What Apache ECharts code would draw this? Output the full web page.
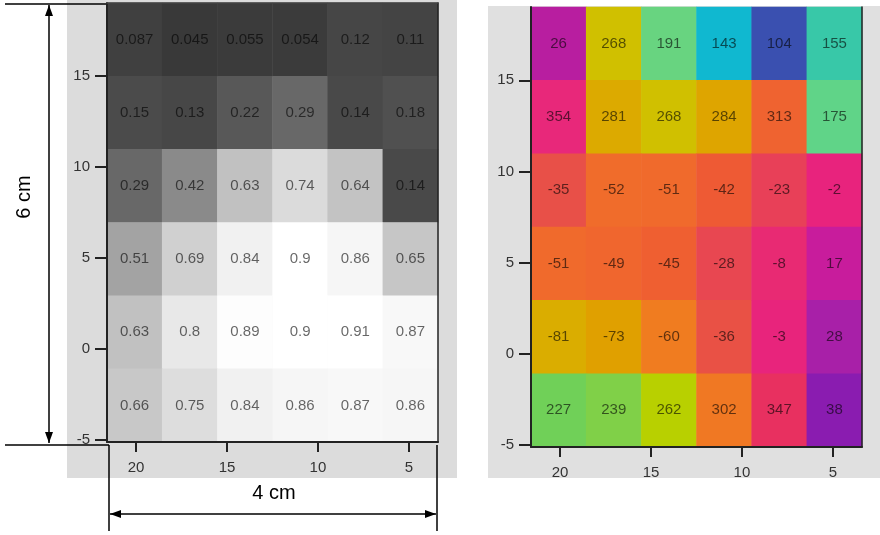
<!DOCTYPE html>
<html>
<head>
<meta charset="utf-8">
<script src="https://cdn.jsdelivr.net/npm/echarts@6/dist/echarts.min.js"></script>
<style>
html,body{margin:0;padding:0;background:#fff;}
#chart{width:880px;height:535px;}
</style>
</head>
<body>
<div id="chart"></div>
<script>
// ---- data ----
const columns = ['c1', 'c2', 'c3', 'c4', 'c5', 'c6'];          // left to right
const rows = ['r1', 'r2', 'r3', 'r4', 'r5', 'r6'];             // bottom to top
const xTickValues = [20, 15, 10, 5];
const yTickValues = [-5, 0, 5, 10, 15];
// amplitude (left panel), rows listed top to bottom
const amplitude = [
  [0.087, 0.045, 0.055, 0.054, 0.12, 0.11],
  [0.15, 0.13, 0.22, 0.29, 0.14, 0.18],
  [0.29, 0.42, 0.63, 0.74, 0.64, 0.14],
  [0.51, 0.69, 0.84, 0.9, 0.86, 0.65],
  [0.63, 0.8, 0.89, 0.9, 0.91, 0.87],
  [0.66, 0.75, 0.84, 0.86, 0.87, 0.86]
];
// phase in degrees (right panel), rows listed top to bottom
const phase = [
  [26, 268, 191, 143, 104, 155],
  [354, 281, 268, 284, 313, 175],
  [-35, -52, -51, -42, -23, -2],
  [-51, -49, -45, -28, -8, 17],
  [-81, -73, -60, -36, -3, 28],
  [227, 239, 262, 302, 347, 38]
];
const xRange = [3.4, 21.6];
const yRange = [-5.1, 19.02];

// ---- colour maps (styles) ----
const grayStops = ['#323232', '#424242', '#545454', '#6a6a6a', '#858585', '#a0a0a0', '#b9b9b9', '#d2d2d2', '#e8e8e8', '#ffffff'];
const phaseStops = [
  [0, '#e8207e'], [17, '#c81c9c'], [26, '#b81ea0'], [28, '#a820a8'], [38, '#8a1cb0'],
  [104, '#3a50b0'], [143, '#10b8d0'], [155, '#38c8a8'], [175, '#60d488'], [191, '#68d480'],
  [227, '#70d058'], [239, '#80d048'], [262, '#b8d000'], [268, '#d0c000'], [281, '#dcaa00'],
  [287, '#e0a000'], [300, '#f07c20'], [309, '#f06a2c'], [318, '#ee5a34'], [325, '#e85048'],
  [337, '#e84058'], [347, '#e83060'], [354, '#e8287a'], [360, '#e8207e']
];
function hex2rgb(h){return [parseInt(h.substr(1,2),16),parseInt(h.substr(3,2),16),parseInt(h.substr(5,2),16)];}
function phaseColorList(){
  const out = [];
  for (let a = 0; a <= 360; a++) {
    let k = 0;
    while (k < phaseStops.length - 2 && phaseStops[k+1][0] < a) k++;
    const [a0, c0] = phaseStops[k], [a1, c1] = phaseStops[k+1];
    const t = a1 === a0 ? 0 : Math.min(1, Math.max(0, (a - a0) / (a1 - a0)));
    const r0 = hex2rgb(c0), r1 = hex2rgb(c1);
    const c = r0.map((v, i) => Math.round(v + (r1[i] - v) * t));
    out.push('rgb(' + c.join(',') + ')');
  }
  return out;
}

// ---- build series data ----
const ampData = [];
const phaseData = [];
for (let i = 0; i < 6; i++) {
  for (let j = 0; j < 6; j++) {
    ampData.push([j, 5 - i, amplitude[i][j]]);
    const p = phase[i][j];
    phaseData.push([j, 5 - i, ((p % 360) + 360) % 360, p]);
  }
}

const FONT = 'Liberation Sans, Arial, sans-serif';
const AX = '#222';

function valueX(g) {
  return {
    gridIndex: g, type: 'value', min: xRange[0], max: xRange[1], inverse: true, position: 'bottom', z: 5,
    axisLine: {show: true, onZero: false, lineStyle: {color: AX, width: 2}},
    axisTick: {show: true, customValues: xTickValues, length: 10, lineStyle: {color: AX, width: 2}},
    axisLabel: {show: true, customValues: xTickValues, margin: 18, fontSize: 15, color: '#333', fontFamily: FONT},
    splitLine: {show: false}
  };
}
function valueY(g) {
  return {
    gridIndex: g, type: 'value', min: yRange[0], max: yRange[1], position: 'left', z: 5,
    axisLine: {show: true, onZero: false, lineStyle: {color: AX, width: 2}},
    axisTick: {show: true, customValues: yTickValues, length: 12, lineStyle: {color: AX, width: 2}},
    axisLabel: {show: true, customValues: yTickValues, margin: 17, fontSize: 15, color: '#333', fontFamily: FONT},
    splitLine: {show: false}
  };
}
function catX(g, showTop) {
  return {
    gridIndex: g, type: 'category', data: columns, position: 'top', z: 5,
    axisLine: {show: showTop, onZero: false, lineStyle: {color: '#444', width: 1.5}},
    axisTick: {show: false}, axisLabel: {show: false}, splitLine: {show: false}
  };
}
function catY(g) {
  return {
    gridIndex: g, type: 'category', data: rows, position: 'right', z: 5,
    axisLine: {show: true, onZero: false, lineStyle: {color: AX, width: 1.5}},
    axisTick: {show: false}, axisLabel: {show: false}, splitLine: {show: false}
  };
}

const labelStyle = {show: true, fontSize: 15, color: 'rgba(0,0,0,0.6)', fontFamily: FONT};

function arrowV(x, y1, y2) {
  return [
    {type: 'line', shape: {x1: x, y1: y1, x2: x, y2: y2}, style: {stroke: '#000', lineWidth: 1.5}},
    {type: 'polygon', shape: {points: [[x, y1], [x - 4, y1 + 11], [x + 4, y1 + 11]]}, style: {fill: '#000'}},
    {type: 'polygon', shape: {points: [[x, y2], [x - 4, y2 - 11], [x + 4, y2 - 11]]}, style: {fill: '#000'}}
  ];
}
function arrowH(y, x1, x2) {
  return [
    {type: 'line', shape: {x1: x1, y1: y, x2: x2, y2: y}, style: {stroke: '#000', lineWidth: 1.5}},
    {type: 'polygon', shape: {points: [[x1, y], [x1 + 11, y - 4], [x1 + 11, y + 4]]}, style: {fill: '#000'}},
    {type: 'polygon', shape: {points: [[x2, y], [x2 - 11, y - 4], [x2 - 11, y + 4]]}, style: {fill: '#000'}}
  ];
}
function line(x1, y1, x2, y2) {
  return {type: 'line', shape: {x1, y1, x2, y2}, style: {stroke: '#000', lineWidth: 1.5}};
}

const chart = echarts.init(document.getElementById('chart'), null, {renderer: 'canvas'});
chart.setOption({
  backgroundColor: '#ffffff',
  animation: false,
  textStyle: {fontFamily: FONT},
  grid: [
    {left: 107, top: 3, width: 331, height: 439, containLabel: false},
    {left: 531, top: 7, width: 331, height: 440, containLabel: false}
  ],
  xAxis: [catX(0, true), valueX(0), catX(1, false), valueX(1)],
  yAxis: [catY(0), valueY(0), catY(1), valueY(1)],
  visualMap: [
    {show: false, type: 'continuous', seriesIndex: 0, dimension: 2, min: 0, max: 0.9, inRange: {color: grayStops}},
    {show: false, type: 'continuous', seriesIndex: 1, dimension: 2, min: 0, max: 360, inRange: {color: phaseColorList()}}
  ],
  series: [
    {
      type: 'heatmap', xAxisIndex: 0, yAxisIndex: 0, data: ampData,
      label: Object.assign({}, labelStyle, {formatter: p => String(p.value[2])}),
      itemStyle: {borderWidth: 0}
    },
    {
      type: 'heatmap', xAxisIndex: 2, yAxisIndex: 2, data: phaseData,
      label: Object.assign({}, labelStyle, {formatter: p => String(p.value[3])}),
      itemStyle: {borderWidth: 0}
    }
  ],
  graphic: {
    elements: [
      {type: 'rect', shape: {x: 67, y: 0, width: 390, height: 478}, style: {fill: '#dcdcdc'}, z: -10},
      {type: 'rect', shape: {x: 488, y: 6, width: 392, height: 472}, style: {fill: '#e0e0e0'}, z: -10},
      line(5, 4, 107, 4),
      line(5, 445, 109, 445),
      line(109, 445, 109, 531),
      line(437, 445, 437, 531),
      ...arrowV(49, 5, 443),
      ...arrowH(514, 110, 436),
      {type: 'text', x: 24, y: 197, rotation: Math.PI / 2,
       style: {text: '6 cm', fill: '#000', font: '20px ' + FONT, textAlign: 'center', textVerticalAlign: 'middle'}},
      {type: 'text', x: 274, y: 493,
       style: {text: '4 cm', fill: '#000', font: '20px ' + FONT, textAlign: 'center', textVerticalAlign: 'middle'}}
    ]
  }
});
</script>
</body>
</html>
